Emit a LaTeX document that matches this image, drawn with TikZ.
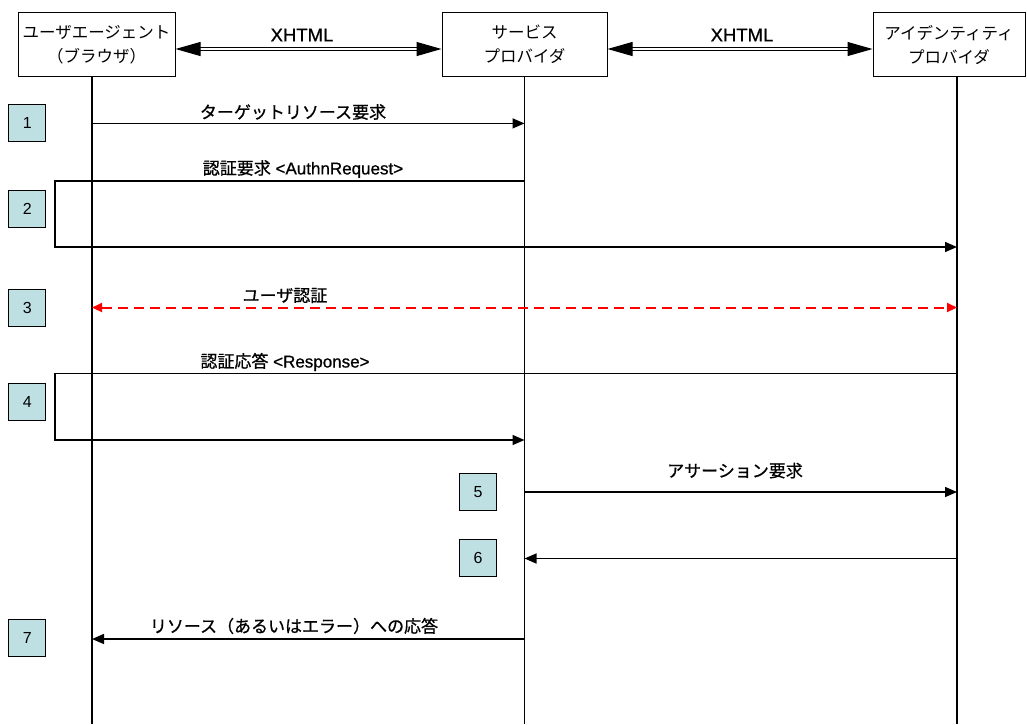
\documentclass[tikz,border=0pt]{standalone}
\usepackage{fontspec}
\setmainfont{Liberation Sans}
\newfontfamily\jp{Noto Sans CJK JP}
\newfontfamily\jpb[FakeBold=0.8]{Noto Sans CJK JP}
\newfontfamily\latb[FakeBold=0.8]{Liberation Sans}
\usetikzlibrary{arrows.meta}
\definecolor{stepfill}{RGB}{191,224,227}
\begin{document}
\begin{tikzpicture}[x=1pt,y=-1pt,
  actor/.style={draw, line width=1pt, minimum height=64pt, inner sep=0pt, align=center, font=\jp\fontsize{16.5}{24}\selectfont},
  stepbox/.style={draw, line width=0.9pt, fill=stepfill, minimum width=37pt, minimum height=37pt, inner sep=0pt, font=\fontsize{16}{18}\selectfont},
  msg/.style={line width=1.5pt, -{Triangle[length=12pt,width=10pt]}},
  auth/.style={line width=2pt, red, dash pattern=on 10pt off 6pt, {Triangle[length=10pt,width=9pt]}-{Triangle[length=10pt,width=9pt]}},
  lbl/.style={inner sep=0pt, font=\latb\fontsize{17}{20}\selectfont},
  life/.style={line width=1.4pt},
  xh/.style={double, double distance=2pt, line width=1pt, {Triangle[length=25pt,width=14pt]}-{Triangle[length=25pt,width=14pt]}}
]
\useasboundingbox (0,0) rectangle (1027,724);

% actors
\node[actor, minimum width=157pt] (ua) at (96.5,44.7) {ユーザエージェント\\（ブラウザ）};
\node[actor, minimum width=165pt] (sp) at (524.5,44.7) {サービス\\プロバイダ};
\node[actor, minimum width=152pt] (idp) at (949,44.7) {アイデンティティ\\プロバイダ};

% lifelines
\coordinate (uaEnd) at (92,724);
\coordinate (spEnd) at (524.5,724);
\coordinate (idpEnd) at (957,724);
\draw[life] (ua.south -| uaEnd) -- (uaEnd);
\draw[life] (sp.south -| spEnd) -- (spEnd);
\draw[life] (idp.south -| idpEnd) -- (idpEnd);

% XHTML links
\coordinate (xy) at (0,49);
\draw[xh] (ua.east |- xy) -- (sp.west |- xy);
\draw[xh] (sp.east |- xy) -- (idp.west |- xy);
\node[lbl, font=\latb\fontsize{18.5}{20}\selectfont] (x1) at (302,35) {XHTML};
\node[lbl, font=\latb\fontsize{18.5}{20}\selectfont] (x2) at (742,35) {XHTML};

% step boxes
\node[stepbox] (s1) at (27.2,123.4) {1};
\node[stepbox] (s2) at (27.2,209) {2};
\node[stepbox] (s3) at (27.2,308) {3};
\node[stepbox] (s4) at (27.2,402) {4};
\node[stepbox] (s5) at (478,492) {5};
\node[stepbox] (s6) at (478,558) {6};
\node[stepbox] (s7) at (27.2,638) {7};

% message points
\coordinate (ua1) at (92,123.4);   \coordinate (sp1) at (524.5,123.4);
\coordinate (sp2) at (524.5,181);  \coordinate (c2a) at (55,181);
\coordinate (c2b) at (55,247);     \coordinate (idp2) at (957,247);
\coordinate (ua3) at (92,307.5);   \coordinate (idp3) at (957,307.5);
\coordinate (idp4) at (957,373.7); \coordinate (c4a) at (55,373.7);
\coordinate (c4b) at (55,440);     \coordinate (sp4) at (524.5,440);
\coordinate (sp5) at (524.5,492);  \coordinate (idp5) at (957,492);
\coordinate (idp6) at (957,558.5); \coordinate (sp6) at (524.5,558.5);
\coordinate (sp7) at (524.5,639);  \coordinate (ua7) at (92,639);

% messages
\draw[msg] (ua1) -- (sp1);
\draw[msg] (sp2) -- (c2a) -- (c2b) -- (idp2);
\draw[auth] (ua3) -- (idp3);
\draw[msg] (idp4) -- (c4a) -- (c4b) -- (sp4);
\draw[msg] (sp5) -- (idp5);
\draw[msg] (idp6) -- (sp6);
\draw[msg] (sp7) -- (ua7);

% labels
\node[lbl] (l1) at (293,112) {\jpb ターゲットリソース要求};
\node[lbl] (l2) at (303,169) {{\jpb 認証要求} <AuthnRequest>};
\node[lbl] (l3) at (285,295.5) {\jpb ユーザ認証};
\node[lbl] (l4) at (285,362) {{\jpb 認証応答} <Response>};
\node[lbl] (l5) at (735,470.6) {\jpb アサーション要求};
\node[lbl] (l7) at (294,626) {\jpb リソース（あるいはエラー）への応答};
\end{tikzpicture}
\end{document}
